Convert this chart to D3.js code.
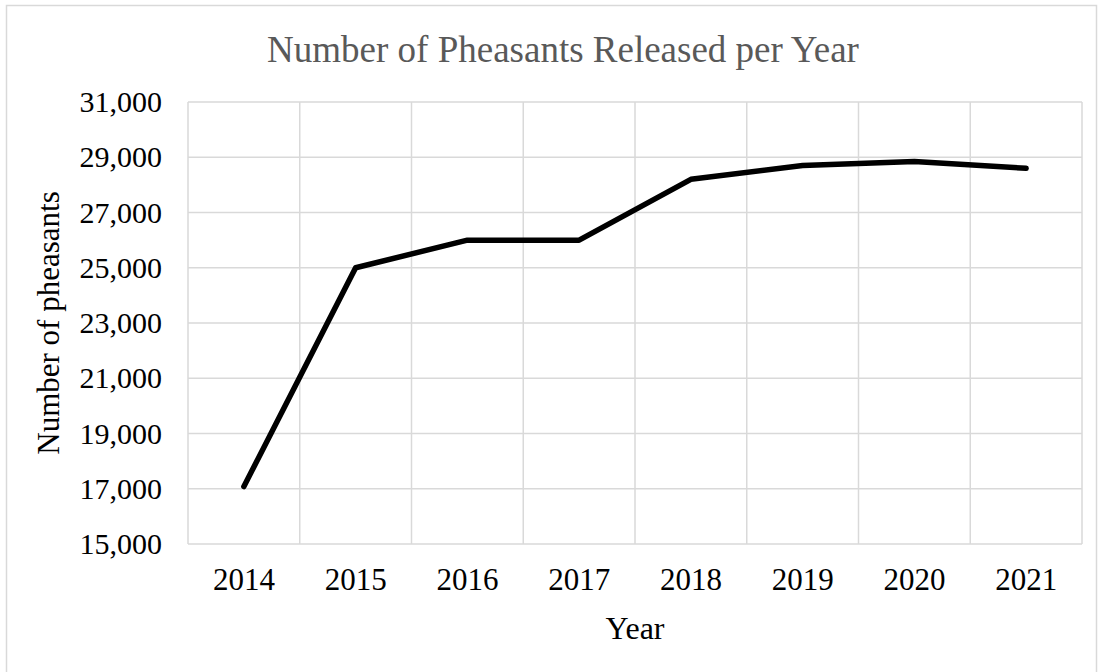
<!DOCTYPE html>
<html>
<head>
<meta charset="utf-8">
<script src="https://cdn.jsdelivr.net/npm/d3@7"></script>
<style>
  body { margin: 0; background: #fff; }
  svg text { font-family: "Liberation Serif", "Times New Roman", serif; }
</style>
</head>
<body>
<div id="chart"></div>
<script>
// data
const years = ["2014", "2015", "2016", "2017", "2018", "2019", "2020", "2021"];
const pheasants = [17080, 25000, 26000, 26000, 28200, 28700, 28850, 28600];
const yTicks = [15000, 17000, 19000, 21000, 23000, 25000, 27000, 29000, 31000];

const width = 1101, height = 672;
const margin = {top: 102, right: 19, bottom: 128, left: 188};

const svg = d3.select("#chart").append("svg")
    .attr("width", width)
    .attr("height", height);

// outer chart border
svg.append("rect")
    .attr("x", 6.5).attr("y", 5.5)
    .attr("width", 1090).attr("height", 700)
    .attr("fill", "none")
    .attr("stroke", "#d9d9d9")
    .attr("stroke-width", 1.5);

let x = d3.scaleBand().domain(years).range([margin.left, width - margin.right]);
let y = d3.scaleLinear().domain([15000, 31000]).range([height - margin.bottom, margin.top]);

let grid = svg.append("g").attr("id", "grid");

// horizontal gridlines
grid.selectAll("line.h").data(yTicks).enter().append("line")
    .attr("class", "h")
    .attr("x1", margin.left).attr("x2", width - margin.right)
    .attr("y1", d => y(d)).attr("y2", d => y(d))
    .attr("stroke", "#d9d9d9").attr("stroke-width", 1.5);

// vertical gridlines at category boundaries
let bounds = years.map(d => x(d)).concat([x(years[years.length - 1]) + x.bandwidth()]);
grid.selectAll("line.v").data(bounds).enter().append("line")
    .attr("class", "v")
    .attr("x1", d => d).attr("x2", d => d)
    .attr("y1", margin.top).attr("y2", height - margin.bottom)
    .attr("stroke", "#d9d9d9").attr("stroke-width", 1.5);

// y axis labels
let yAxis = d3.axisLeft(y).tickValues(yTicks).tickSize(0).tickPadding(26)
    .tickFormat(d3.format(","));
let yg = svg.append("g").attr("transform", `translate(${margin.left},0)`).call(yAxis);
yg.select(".domain").remove();
yg.selectAll("text").attr("font-size", 30).attr("fill", "#000")
    .style("font-family", "'Liberation Serif', serif");

// x axis labels
let xAxis = d3.axisBottom(x).tickSize(0).tickPadding(24);
let xg = svg.append("g").attr("transform", `translate(0,${height - margin.bottom})`).call(xAxis);
xg.select(".domain").remove();
xg.selectAll("text").attr("font-size", 31).attr("fill", "#000")
    .style("font-family", "'Liberation Serif', serif");

// the line
let line = d3.line()
    .x((d, i) => x(years[i]) + x.bandwidth() / 2)
    .y(d => y(d));

svg.append("path")
    .datum(pheasants)
    .attr("d", line)
    .attr("fill", "none")
    .attr("stroke", "#000")
    .attr("stroke-width", 5.5)
    .attr("stroke-linejoin", "round")
    .attr("stroke-linecap", "round");

// title
svg.append("text")
    .attr("x", 563).attr("y", 62)
    .attr("text-anchor", "middle")
    .attr("font-size", 37)
    .attr("fill", "#595959")
    .text("Number of Pheasants Released per Year");

// axis titles
svg.append("text")
    .attr("x", (margin.left + width - margin.right) / 2).attr("y", 639)
    .attr("text-anchor", "middle")
    .attr("font-size", 32)
    .attr("fill", "#000")
    .text("Year");

svg.append("text")
    .attr("transform", `translate(59,${(margin.top + height - margin.bottom) / 2}) rotate(-90)`)
    .attr("text-anchor", "middle")
    .attr("font-size", 31)
    .attr("fill", "#000")
    .text("Number of pheasants");
</script>
</body>
</html>
